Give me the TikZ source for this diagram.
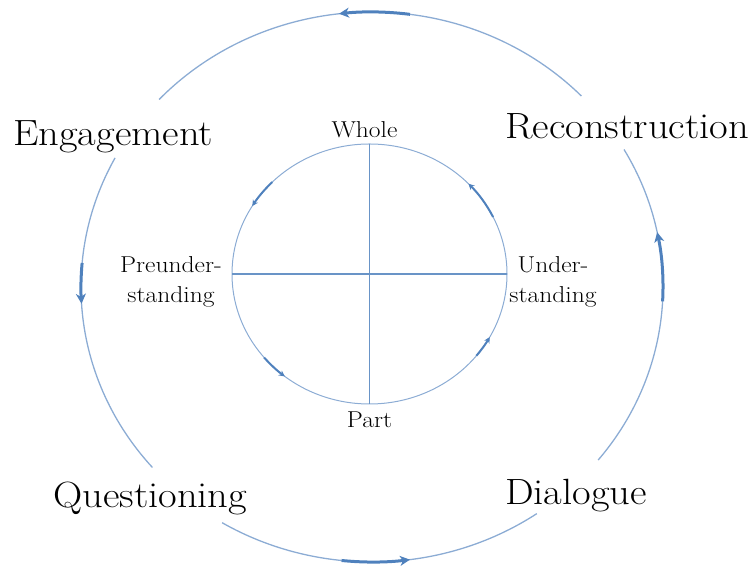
\documentclass[tikz,border=0pt]{standalone}
\usepackage{fontspec}
\setmainfont{Latin Modern Roman}[FakeStretch=1.11]
\usetikzlibrary{arrows.meta,positioning}
\definecolor{ringblue}{RGB}{140,172,212}
\definecolor{flowblue}{RGB}{79,129,189}
\begin{document}
\begin{tikzpicture}[x=1pt,y=1pt,
    ring/.style={draw=ringblue,line width=1.3pt},
    spoke/.style={draw=flowblue!85,line width=1.4pt},
    flow/.style={draw=flowblue,line width=3pt,-{Stealth[length=10pt,width=10pt,inset=3pt]}},
    small flow/.style={draw=flowblue,line width=2pt,-{Stealth[length=6pt,width=6pt,inset=2pt]}},
    stage/.style={inner sep=0pt,font=\fontsize{36.5}{40}\selectfont},
    pole/.style={inner sep=0pt,align=center,font=\fontsize{23}{30}\selectfont}]
\useasboundingbox (0,0) rectangle (752,569);
\coordinate (O) at (372,282);
\coordinate (I) at (369.5,295);
\coordinate (T) at ([yshift=130pt]I);
\coordinate (B) at ([yshift=-130pt]I);
\coordinate (L) at ([xshift=-137.5pt]I);
\coordinate (R) at ([xshift=137.5pt]I);

% outer cycle
\draw[ring] ([shift={(-39:291 and 275)}]O) arc[start angle=-39,end angle=30,x radius=291pt,y radius=275pt];
\draw[ring] ([shift={(44:291 and 275)}]O) arc[start angle=44,end angle=137,x radius=291pt,y radius=275pt];
\draw[ring] ([shift={(152:291 and 275)}]O) arc[start angle=152,end angle=221,x radius=291pt,y radius=275pt];
\draw[ring] ([shift={(239:291 and 275)}]O) arc[start angle=239,end angle=304.5,x radius=291pt,y radius=275pt];
\draw[flow] ([shift={(-3:291 and 275)}]O) arc[start angle=-3,end angle=11.5,x radius=291pt,y radius=275pt];
\draw[flow] ([shift={(82.5:291 and 275)}]O) arc[start angle=82.5,end angle=96.5,x radius=291pt,y radius=275pt];
\draw[flow] ([shift={(175:291 and 275)}]O) arc[start angle=175,end angle=183.5,x radius=291pt,y radius=275pt];
\draw[flow] ([shift={(264:291 and 275)}]O) arc[start angle=264,end angle=277.5,x radius=291pt,y radius=275pt];

% inner circle
\draw[ring,line width=1pt] (I) ellipse[x radius=137.5pt,y radius=130pt];
\draw[spoke] (L) -- (R);
\draw[spoke] (T) -- (B);
\draw[small flow] ([shift={(26:137.5 and 130)}]I) arc[start angle=26,end angle=44,x radius=137.5pt,y radius=130pt];
\draw[small flow] ([shift={(135:137.5 and 130)}]I) arc[start angle=135,end angle=148.5,x radius=137.5pt,y radius=130pt];
\draw[small flow] ([shift={(220:137.5 and 130)}]I) arc[start angle=220,end angle=232,x radius=137.5pt,y radius=130pt];
\draw[small flow] ([shift={(321:137.5 and 130)}]I) arc[start angle=321,end angle=331,x radius=137.5pt,y radius=130pt];

\node[stage,anchor=base west] (engage) at (13,423) {Engagement};
\node[stage,anchor=base west] (recon) at (505,430) {Reconstruction};
\node[stage,anchor=base west] (quest) at (53,61) {Questioning};
\node[stage,anchor=base west] (dialog) at (505,64) {Dialogue};

\node[pole,above=6pt of T,xshift=-5pt] (whole) {Whole};
\node[pole,below=8pt of B] (part) {Part};
\node[pole] (pre) at (171,287) {Preunder-\\standing};
\node[pole] (under) at (553,287) {Under-\\standing};
\end{tikzpicture}
\end{document}
